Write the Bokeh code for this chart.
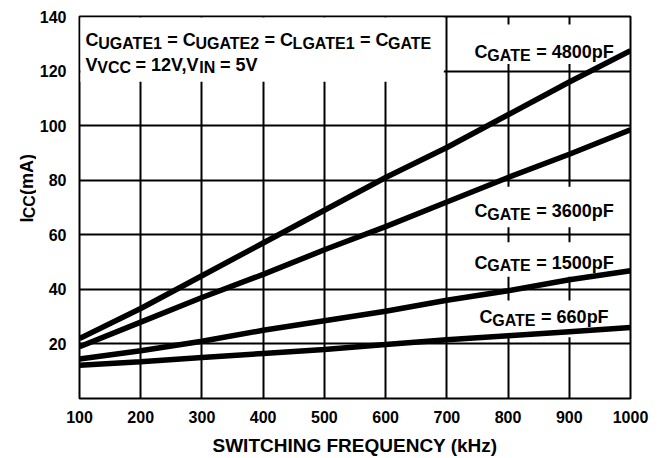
import math
from bokeh.plotting import figure
from bokeh.models import Range1d, Label
from bokeh.layouts import row
from bokeh.embed import file_html
from bokeh.resources import INLINE

# ---- data ----
freq = [100, 200, 300, 400, 500, 600, 700, 800, 900, 1000]
icc_4800 = [22, 33, 45, 57, 69, 81, 92, 104, 116, 127.5]
icc_3600 = [19, 28, 37, 45.5, 54.5, 63, 72, 81, 89.5, 98.5]
icc_1500 = [14.5, 17.5, 21, 25, 28.5, 32, 36, 39.5, 43.5, 46.8]
icc_660 = [12.2, 13.5, 15, 16.5, 18, 19.8, 21.5, 23, 24.5, 26]
x_ticks = [100, 200, 300, 400, 500, 600, 700, 800, 900, 1000]
y_ticks = [20, 40, 60, 80, 100, 120, 140]
x_title = "SWITCHING FREQUENCY (kHz)"

PAGE_W, PAGE_H = 661, 458
YL_W = 36                            # narrow strip that holds the y-axis title
FL, FR, FT, FB = 72, 630, 16, 402    # frame edges in page pixels
FONT = "Liberation Sans"
MAIN, SUB, SUB_DROP = 18, 16, 3

# Arial / Liberation Sans Bold advance widths (1/1000 em)
ADV = {" ": 278, "=": 584, "(": 333, ")": 333, ",": 278, "A": 722, "C": 722,
       "E": 667, "F": 611, "G": 778, "I": 278, "L": 611, "N": 722, "T": 611,
       "U": 722, "V": 667, "p": 611, "m": 889, "k": 556, "H": 722, "z": 500}


def adv(s, size):
    return sum(ADV.get(c, 556) for c in s) * size / 1000.0


W = PAGE_W - YL_W
p = figure(width=W, height=PAGE_H, title=None,
           x_range=Range1d(100, 1000), y_range=Range1d(0, 140),
           output_backend="svg", toolbar_location=None,
           min_border_left=FL - YL_W, min_border_right=PAGE_W - FR,
           min_border_top=FT, min_border_bottom=PAGE_H - FB)
p.background_fill_color = "white"
p.border_fill_color = "white"
p.outline_line_color = "black"
p.outline_line_width = 2

for ax, ticks, so in ((p.xaxis, x_ticks, 6), (p.yaxis, y_ticks, 7)):
    ax.ticker = ticks
    ax.axis_line_color = None
    ax.major_tick_line_color = None
    ax.minor_tick_line_color = None
    ax.major_label_text_font = FONT
    ax.major_label_text_font_style = "bold"
    ax.major_label_text_font_size = "16px"
    ax.major_label_text_color = "black"
    ax.major_label_standoff = so

p.xaxis.axis_label = x_title
p.xaxis.axis_label_text_font = FONT
p.xaxis.axis_label_text_font_style = "bold"
p.xaxis.axis_label_text_font_size = "19px"
p.xaxis.axis_label_text_color = "black"
p.xaxis.axis_label_standoff = 9

p.grid.grid_line_color = "black"
p.grid.grid_line_width = 2
p.grid.grid_line_alpha = 1


def dx(px):
    return 100 + (px - FL) / (FR - FL) * 900


def dy(py):
    return (FB - py) / (FB - FT) * 140


# white backgrounds behind the texts (they hide the grid)
boxes = [(73, 441, 17, 82), (455, 628, 24, 64), (455, 628, 188, 229),
         (455, 628, 244, 279), (462, 628, 303, 340)]
p.quad(left=[dx(b[0]) for b in boxes], right=[dx(b[1]) for b in boxes],
       top=[dy(b[2]) for b in boxes], bottom=[dy(b[3]) for b in boxes],
       fill_color="white", line_color=None)

for ys in (icc_4800, icc_3600, icc_1500, icc_660):
    p.line(freq, ys, line_color="black", line_width=5.5)


def label(fig, x, y, text, size, angle=0.0):
    fig.add_layout(Label(x=x, y=y, text=text, text_font=FONT,
                         text_font_style="bold", text_font_size=f"{size}px",
                         text_color="black", text_align="left",
                         text_baseline="alphabetic", angle=angle))


def run(x0, base, pieces):
    """pieces: (text, is_sub) laid out left to right in page pixels."""
    x = x0
    for text, sub in pieces:
        size = SUB if sub else MAIN
        lead = len(text) - len(text.lstrip(" "))
        x += adv(" " * lead, size)
        body = text.strip(" ")
        label(p, dx(x), dy(base + (SUB_DROP if sub else 0)), body, size)
        x += adv(body, size)


run(78, 40, [("C", False), ("UGATE1", True), (" = C", False), ("UGATE2", True),
             (" = C", False), ("LGATE1", True), (" = C", False), ("GATE", True)])
run(78, 65, [("V", False), ("VCC", True), (" = 12V,V", False), ("IN", True),
             (" = 5V", False)])
for (cx, base, val) in ((472, 52, " = 4800pF"), (472, 213, " = 3600pF"),
                        (472, 265, " = 1500pF"), (477, 320, " = 660pF")):
    run(cx, base, [("C", False), ("GATE", True), (val, False)])

# y-axis title in its own strip (page pixels, y downward)
yl = figure(width=YL_W, height=PAGE_H, title=None,
            x_range=Range1d(0, YL_W), y_range=Range1d(PAGE_H, 0),
            output_backend="svg", toolbar_location=None, min_border=0)
yl.axis.visible = False
yl.grid.visible = False
yl.outline_line_color = None
yl.background_fill_color = "white"
yl.border_fill_color = "white"
y = 247.0
for text, sub in (("I", False), ("CC", True), (" (mA)", False)):
    size = SUB if sub else MAIN
    lead = len(text) - len(text.lstrip(" "))
    y -= adv(" " * lead, size)
    body = text.strip(" ")
    label(yl, 26 + (SUB_DROP if sub else 0), y, body, size, math.pi / 2)
    y -= adv(body, size)

layout = row(yl, p, spacing=0)
open("out.html", "w").write(file_html(layout, INLINE))
